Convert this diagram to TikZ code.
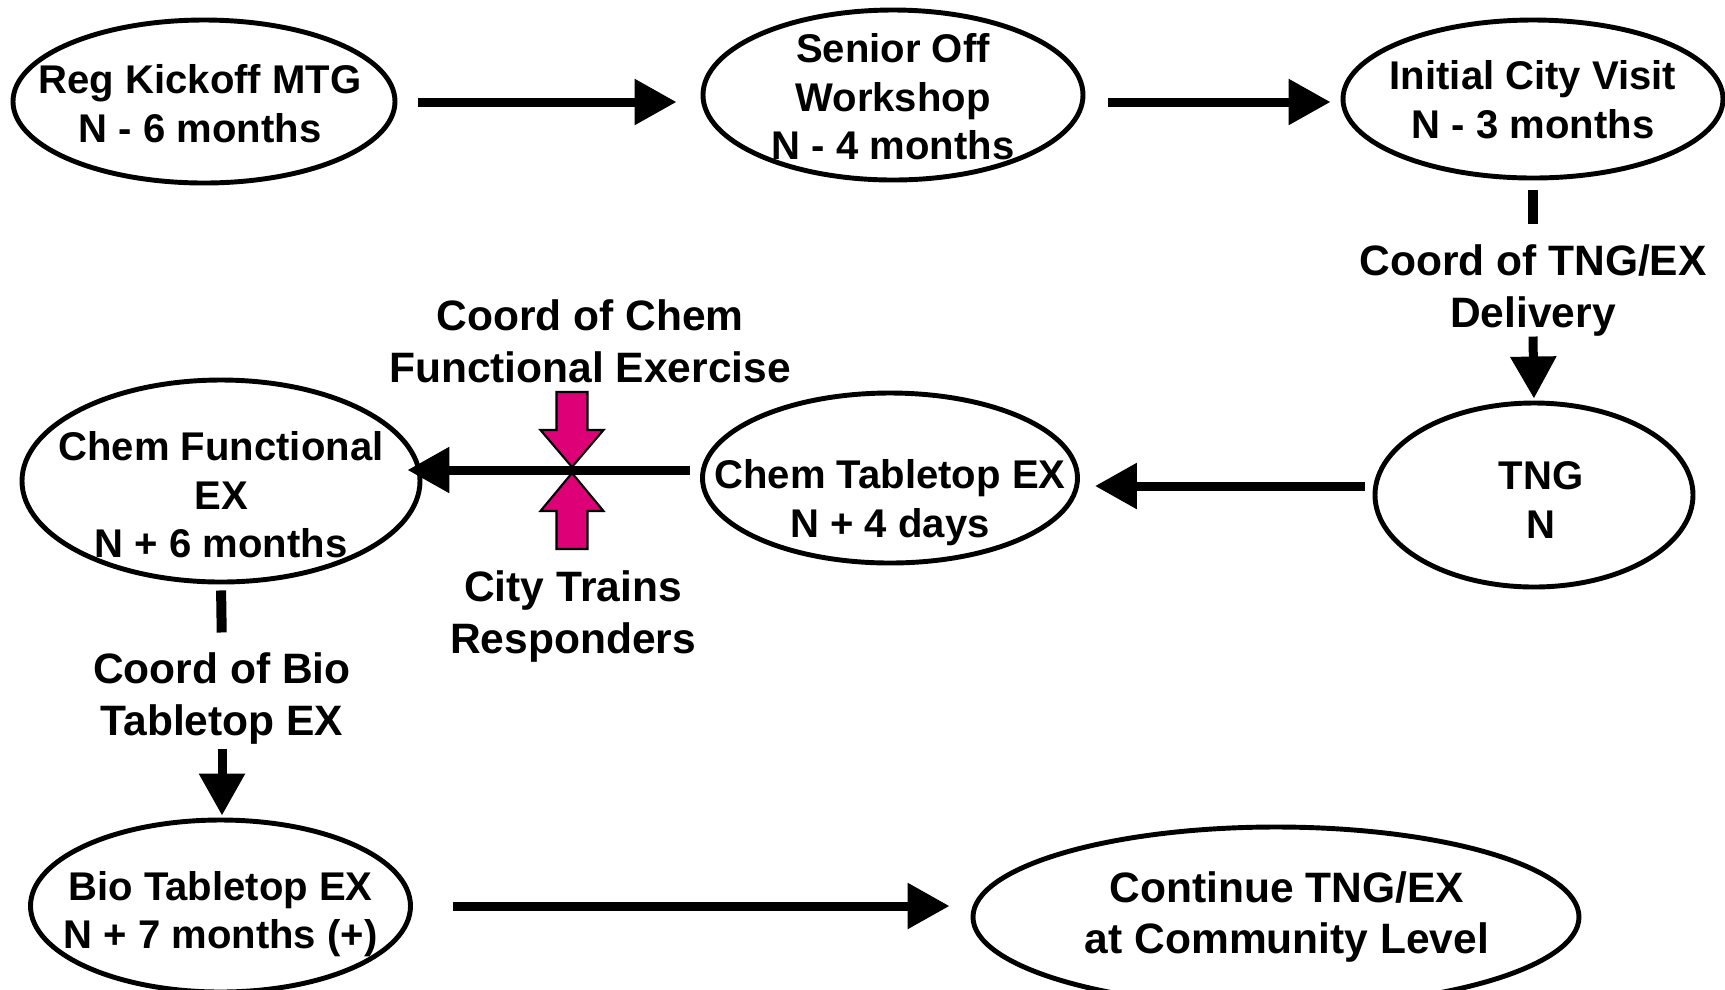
\documentclass[tikz,border=0pt]{standalone}
\usepackage{fontspec}
\setmainfont{Liberation Sans}
\usetikzlibrary{shapes.geometric, arrows.meta}
\definecolor{trainpink}{RGB}{221,0,119}

\begin{document}
\begin{tikzpicture}[
    stage/.style={draw, ellipse, line width=1.4pt, inner sep=0pt},
    stagetext/.style={align=center, inner sep=0pt, font=\fontsize{11.4pt}{13.8pt}\selectfont\bfseries},
    bigtext/.style={stagetext, font=\fontsize{12.1pt}{14.7pt}\selectfont\bfseries},
    note/.style={align=center, inner sep=0pt, font=\fontsize{12.1pt}{14.8pt}\selectfont\bfseries},
    arrow/.style={-{Triangle[length=0.42cm, width=0.44cm]}, line width=0.09cm},
    link/.style={line width=0.1cm},
    push/.style={draw=black, fill=trainpink, line width=0.6pt}
]
    \useasboundingbox (0,0) rectangle (17.25,-9.89);

    \node[stage, minimum width=3.82cm, minimum height=1.63cm, label={[stagetext, xshift=-0.04cm, yshift=-0.02cm]center:Reg Kickoff MTG\\N - 6 months}] (kickoff) at (2.04,-1.015) {};
    \node[stage, minimum width=3.80cm, minimum height=1.70cm, label={[stagetext, yshift=-0.018cm]center:Senior Off\\Workshop\\N - 4 months}] (workshop) at (8.93,-0.95) {};
    \node[stage, minimum width=3.80cm, minimum height=1.58cm, label={[stagetext, yshift=-0.005cm]center:Initial City Visit\\N - 3 months}] (visit) at (15.33,-0.99) {};
    \node[stage, minimum width=3.18cm, minimum height=1.84cm, label={[stagetext, xshift=0.07cm, yshift=-0.05cm]center:TNG\\N}] (tng) at (15.34,-4.95) {};
    \node[stage, minimum width=3.75cm, minimum height=1.70cm, label={[stagetext, yshift=-0.247cm]center:Chem Tabletop EX\\N + 4 days}] (tabletop) at (8.90,-4.78) {};
    \node[stage, minimum width=3.98cm, minimum height=2.02cm, label={[stagetext, yshift=-0.14cm]center:Chem Functional\\EX\\N + 6 months}] (functional) at (2.21,-4.81) {};
    \node[stage, minimum width=3.80cm, minimum height=1.72cm, label={[stagetext, yshift=-0.08cm]center:Bio Tabletop EX\\N + 7 months (+)}] (bio) at (2.205,-9.06) {};
    \node[stage, minimum width=6.06cm, minimum height=1.80cm, label={[bigtext, xshift=0.11cm]center:Continue TNG/EX\\at Community Level}] (community) at (12.76,-9.17) {};

    \node[note] (delivery) at (15.33,-2.90) {Coord of TNG/EX\\Delivery};
    \node[note] (chemnote) at (5.90,-3.41) {Coord of Chem\\Functional Exercise};
    \node[note] (trainnote) at (5.73,-6.16) {City Trains\\Responders};
    \node[note] (bionote) at (2.22,-6.98) {Coord of Bio\\Tabletop EX};
    \coordinate (cross) at (5.72,-4.70);

    \draw[arrow, shorten <=0.21cm, shorten >=0.24cm] (kickoff.east |- 0,-1.02) -- (workshop.west |- 0,-1.02);
    \draw[arrow, shorten <=0.23cm, shorten >=0.10cm] (workshop.east |- 0,-1.02) -- (visit.west |- 0,-1.02);
    \draw[link, shorten <=0.10cm, shorten >=0.19cm] (visit.south) -- (delivery.north);
    \draw[arrow, shorten >=0.02cm] (delivery.south) -- (tng.north);
    \draw[arrow, shorten <=0.08cm, shorten >=0.15cm] (tng.west |- 0,-4.86) -- (tabletop.east |- 0,-4.86);
    \draw[arrow, shorten <=0.10cm, shorten >=-0.15cm] (tabletop.west |- 0,-4.70) -- (functional.east |- 0,-4.70);
    \draw[link, shorten <=0.06cm, shorten >=0.19cm] (functional.south) -- (bionote.north);
    \draw[arrow, shorten <=0.04cm, shorten >=0.02cm] (bionote.south) -- (bionote.south |- bio.north);
    \draw[arrow, shorten <=0.40cm, shorten >=0.21cm] (bio.east) -- (community.west |- bio.east);

    \draw[push, shift={(cross)}] (-0.155,0.78) -- (0.155,0.78) -- (0.155,0.40) -- (0.315,0.40) -- (0,0.03) -- (-0.315,0.40) -- (-0.155,0.40) -- cycle;
    \draw[push, shift={(cross)}] (-0.155,-0.79) -- (0.155,-0.79) -- (0.155,-0.41) -- (0.315,-0.41) -- (0,-0.03) -- (-0.315,-0.41) -- (-0.155,-0.41) -- cycle;
\end{tikzpicture}
\end{document}
